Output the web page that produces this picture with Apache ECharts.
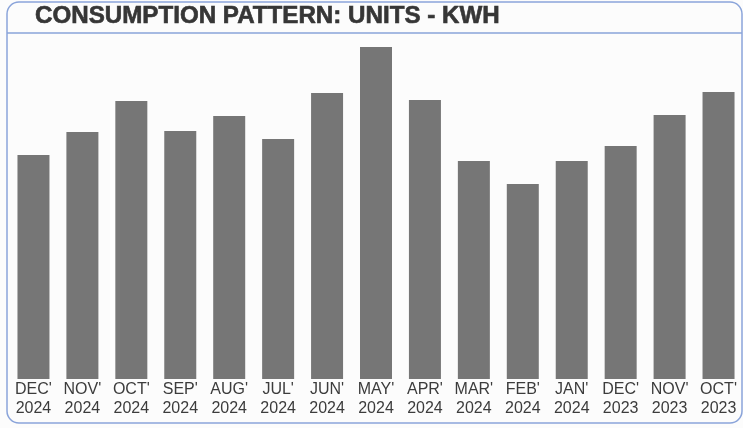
<!DOCTYPE html>
<html>
<head>
<meta charset="utf-8">
<script src="https://cdn.jsdelivr.net/npm/echarts@6/dist/echarts.min.js"></script>
<style>
html,body{margin:0;padding:0;background:#fcfcfc;}
#chart{width:743px;height:428px;}
</style>
</head>
<body>
<div id="chart"></div>
<script>
var titleText = "CONSUMPTION PATTERN: UNITS - KWH";
var months = ["DEC'", "NOV'", "OCT'", "SEP'", "AUG'", "JUL'", "JUN'", "MAY'", "APR'", "MAR'", "FEB'", "JAN'", "DEC'", "NOV'", "OCT'"];
var years = ["2024", "2024", "2024", "2024", "2024", "2024", "2024", "2024", "2024", "2024", "2024", "2024", "2023", "2023", "2023"];
var units = [224, 247, 278, 248, 263, 240, 286, 332, 279, 218, 195, 218, 233, 264, 287];

var categories = months.map(function (m, i) { return m + "\n" + years[i]; });

var chart = echarts.init(document.getElementById('chart'));
chart.setOption({
  backgroundColor: '#fcfcfc',
  animation: false,
  graphic: [
    {
      type: 'text',
      x: 35,
      y: 17,
      scaleX: 1.05,
      style: {
        text: titleText,
        font: 'bold 23px "Liberation Sans", Arial, sans-serif',
        fill: '#363636',
        stroke: '#363636',
        lineWidth: 0.6,
        verticalAlign: 'middle',
        align: 'left'
      },
      z: 10
    },
    {
      type: 'rect',
      shape: { x: 7, y: 2, width: 735, height: 421, r: 12 },
      style: { fill: null, stroke: '#8aa4da', lineWidth: 1.5 },
      z: 10
    },
    {
      type: 'line',
      shape: { x1: 7, y1: 33, x2: 742, y2: 33 },
      style: { stroke: '#8aa4da', lineWidth: 1.5 },
      z: 10
    }
  ],
  grid: { left: 9, right: -5, top: 47, bottom: 49, containLabel: false },
  xAxis: {
    type: 'category',
    data: categories,
    axisLine: { show: false },
    axisTick: { show: false },
    axisLabel: {
      interval: 0,
      margin: 1,
      fontFamily: 'Liberation Sans, Arial, sans-serif',
      fontSize: 16,
      lineHeight: 19,
      color: '#3c3c3c'
    }
  },
  yAxis: {
    type: 'value',
    min: 0,
    max: 332,
    show: false,
    splitLine: { show: false }
  },
  series: [{
    type: 'bar',
    data: units,
    barWidth: 32,
    itemStyle: { color: '#767676' }
  }]
});
</script>
</body>
</html>
